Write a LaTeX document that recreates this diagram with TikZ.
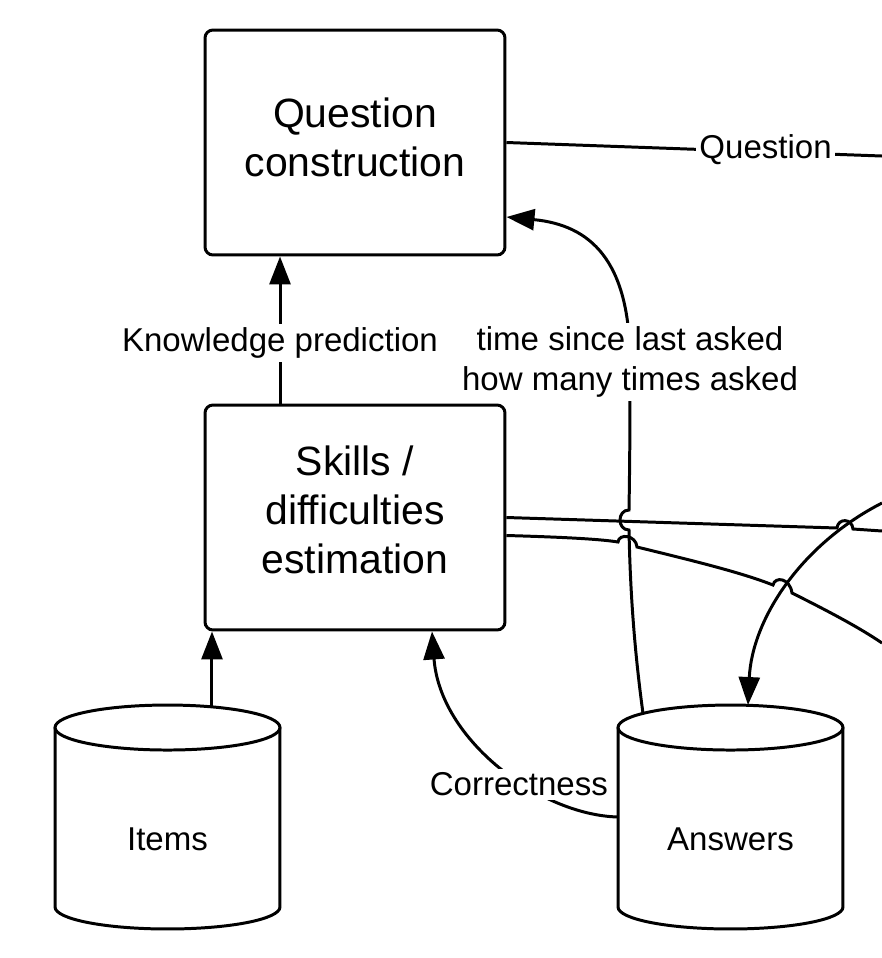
\documentclass[tikz,border=0pt]{standalone}
\usepackage{fontspec}
\setmainfont{Liberation Sans}
\usetikzlibrary{arrows.meta,positioning}
\newcommand{\boxfont}{\fontsize{23.3}{27.9}\selectfont}
\newcommand{\lblfont}{\fontsize{18.8}{22.8}\selectfont}
\newcommand{\database}[1]{%
  \draw[line] ([yshift=0.45cm]#1.north west) -- ([yshift=0.44cm]#1.south west)
    arc[start angle=180, end angle=360, x radius=2.25cm, y radius=0.44cm]
    -- ([yshift=0.45cm]#1.north east);
  \draw[line] ([yshift=0.45cm]#1.north) ellipse [x radius=2.25cm, y radius=0.45cm];
}
\tikzset{
  line/.style={line width=1.7pt},
  arr/.style={line, -{Triangle[length=0.56cm, width=0.42cm]}},
  block/.style={draw, line, rounded corners=4.5pt, minimum width=6cm, minimum height=4.5cm, align=center, font=\boxfont},
  store/.style={minimum width=4.5cm, minimum height=3.58cm, outer sep=0pt, inner sep=0pt, font=\lblfont},
  lbl/.style={fill=white, inner sep=2pt, font=\lblfont}
}

\begin{document}
\begin{tikzpicture}[x=0.02cm, y=-0.02cm]
         \useasboundingbox (0,0) rectangle (882,958);
         \node[block, text depth=5.7pt] (qc) at (355,142.5) {Question\\construction};
         \node[block, text depth=9pt] (skills) at (355,517.5) {Skills /\\difficulties\\estimation};
         \node[store] (items) at (167.5,839.5) {Items};
         \node[store] (answers) at (730.5,839.5) {Answers};
         \database{items}
         \database{answers}
         % loose ends on the right border
         \coordinate (qout) at (882,156);
         \coordinate (skout) at (882,531);
         \coordinate (diffout) at (882,643);
         \coordinate (ansin) at (882,503);
         \coordinate (itop) at ([xshift=0.89cm, yshift=0.86cm]items.north);
         \draw[line] (qc.east) -- node[lbl, pos=0.69, yshift=1.5pt] {Question} (qout);
         \draw[arr] ([xshift=-1.5cm]skills.north) -- node[lbl, pos=0.41] {Knowledge prediction} ([xshift=-1.5cm]qc.south);
         \draw[arr] (itop) -- (itop |- skills.south);
         \draw[arr] ([yshift=0.45cm]answers.west) .. controls (540,815) and (440,740) .. node[lbl, pos=0.41, yshift=-2.3pt] {Correctness} ([xshift=1.54cm]skills.south);
         \draw[arr] ([xshift=-1.75cm, yshift=0.73cm]answers.north) .. controls (633,640) and (630,580) .. (629,530)
            .. controls (617,530) and (617,510) .. (629,510)
            .. controls (630,450) and (630,410) .. (630,362) node[lbl, align=center] {time since last asked\\how many times asked}
            .. controls (630,260) and (590,225) .. ([yshift=-1.49cm]qc.east);
         \draw[line] (skills.east) -- (837,528) .. controls (838,518) and (852,518) .. (853,529) -- (skout);
         \draw[line] ([yshift=-0.36cm]skills.east) .. controls (560,537) and (600,539) .. (618,542)
            .. controls (619,533) and (636,535) .. (637,547)
            .. controls (690,560) and (740,572) .. (773,585)
            .. controls (775,576) and (790,578) .. (792,593)
            .. controls (830,612) and (860,628) .. (diffout);
         \draw[arr] (ansin) .. controls (800,545) and (752,620) .. ([xshift=0.35cm, yshift=0.9cm]answers.north);
\end{tikzpicture}
\end{document}
